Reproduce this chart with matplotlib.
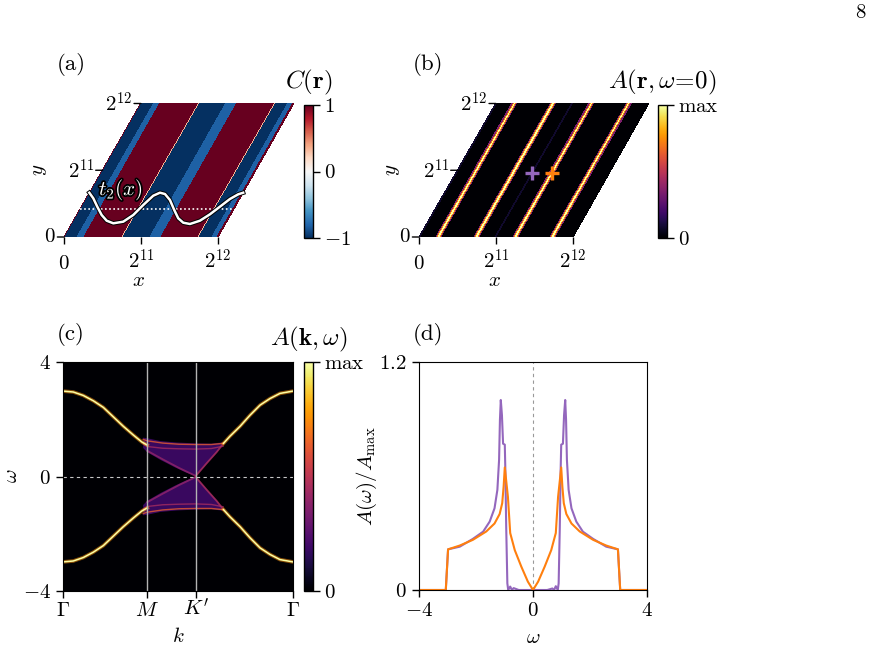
import numpy as np
import matplotlib
matplotlib.use('Agg')
import matplotlib.pyplot as plt
import matplotlib.patheffects as pe
from matplotlib.cm import ScalarMappable
from matplotlib.colors import Normalize

plt.rcParams['mathtext.fontset'] = 'cm'
plt.rcParams['font.family'] = 'serif'
plt.rcParams['font.serif'] = ['cmr10', 'DejaVu Serif']
plt.rcParams['axes.formatter.use_mathtext'] = True
plt.rcParams['font.size'] = 15

W, H = 872, 670
L = 4096

# ---------------------------------------------------------------------------
# data
# ---------------------------------------------------------------------------
LAT_TICKS  = [0, 2048, 4096]
LAT_LABELS = ['$0$', '$2^{11}$', '$2^{12}$']

# (a) C(r) profile along a1 (stripes run along a2)
C_EDGES  = [0, 30, 340, 520, 1545, 1580, 2280, 2575, 3570, 3605, 3940, 4066, 4096]
C_VALUES = [1.0, -1.0, -0.82, 1.0, 0.35, -1.0, -0.82, 1.0, 0.35, -1.0, -0.82, 1.0]

T2_X = [668, 775, 881, 998, 1132, 1309, 1575, 1842, 2109, 2376, 2555, 2689, 2822,
        2937, 3044, 3177, 3356, 3623, 3890, 4157, 4424, 4646, 4779]
T2_Y = [1359, 1187, 930, 675, 500, 420, 470, 675, 982, 1267, 1359, 1319, 1135,
        828, 574, 439, 399, 500, 696, 930, 1166, 1310, 1359]
DOT_X = [419, 4470]
DOT_Y = [859, 859]

# (b) A(r, w=0): bright domain walls, faint mid-domain lines, probe positions
WALL_U  = [520, 1545, 2575, 3570]
FAINT_U = [20, 2060]
CROSS_U = [2040, 2575]
CROSS_V = [1950, 1950]
CROSS_COLORS = ['#9467bd', '#ff7f0e']

# (c) A(k, w) along Gamma-M-K'-Gamma
K_NODES  = [0, 3.628, 5.722, 9.911]
K_LABELS = [r'$\Gamma$', r'$M$', r"$K'$", r'$\Gamma$']
GM_K = [0, 0.43, 0.86, 1.30, 1.73, 2.16, 2.59, 3.03, 3.39, 3.628]
GM_W = [2.99, 2.96, 2.84, 2.65, 2.42, 2.09, 1.76, 1.45, 1.21, 1.10]
KG_K = [6.92, 7.20, 7.64, 8.07, 8.50, 8.93, 9.36, 9.911]
KG_W = [1.16, 1.41, 1.76, 2.15, 2.50, 2.73, 2.91, 2.99]
CONE_K = [5.722, 6.19, 6.63, 6.92]
CONE_W = [0.02, 0.46, 0.86, 1.16]
DIAG_K = [3.628, 4.3, 5.0, 5.722]
DIAG_W = [0.90, 0.60, 0.30, 0.02]
FAN_K  = [3.45, 3.628, 4.3, 5.0, 5.722, 6.4, 6.9]
FAN_W1 = [1.30, 1.25, 1.17, 1.13, 1.12, 1.12, 1.16]
FAN_W2 = [1.15, 1.05, 0.99, 0.97, 0.96, 0.98, 1.06]
SMEAR_K = [3.45, 3.628, 4.2, 4.9, 5.722, 6.4, 6.92, 6.63, 6.19, 5.722, 5.3, 4.8, 4.2, 3.628, 3.45]
SMEAR_W = [1.36, 1.34, 1.24, 1.19, 1.16, 1.15, 1.20, 0.86, 0.46, 0.02, 0.14, 0.33, 0.58, 0.85, 1.0]

# (d) local DOS at the two probe positions
OM_WALL = [-4, -3.06, -2.98, -2.57, -2.11, -1.64, -1.35, -1.17, -1.08, -1.03, -0.99,
           -0.88, -0.80, -0.64, -0.41, -0.18, 0, 0.18, 0.41, 0.64, 0.80, 0.88, 0.99,
           1.03, 1.08, 1.17, 1.35, 1.64, 2.11, 2.57, 2.98, 3.06, 4]
A_WALL  = [0, 0, 0.214, 0.234, 0.264, 0.308, 0.35, 0.40, 0.457, 0.545, 0.645,
           0.49, 0.30, 0.21, 0.123, 0.044, 0, 0.044, 0.123, 0.21, 0.30, 0.49, 0.645,
           0.545, 0.457, 0.40, 0.35, 0.308, 0.264, 0.234, 0.214, 0, 0]
OM_DOM = [-4, -3.06, -2.98, -2.57, -2.11, -1.75, -1.52, -1.35, -1.25, -1.19, -1.16,
          -1.13, -1.09, -1.05, -0.99, -0.97, -0.94, -0.90, -0.87, -0.80, -0.74, -0.68,
          -0.5, 0, 0.5, 0.68, 0.74, 0.80, 0.87, 0.90, 0.94, 0.97, 0.99, 1.05, 1.09,
          1.13, 1.16, 1.19, 1.25, 1.35, 1.52, 1.75, 2.11, 2.57, 2.98, 3.06, 4]
A_DOM  = [0, 0, 0.214, 0.228, 0.269, 0.307, 0.36, 0.43, 0.527, 0.685, 0.896,
          1.0, 0.92, 0.77, 0.765, 0.63, 0.33, 0.035, 0, 0.018, 0, 0.01,
          0, 0, 0, 0.008, 0, 0.02, 0, 0.035, 0.33, 0.63, 0.765, 0.77, 0.92,
          1.0, 0.896, 0.685, 0.527, 0.43, 0.36, 0.307, 0.269, 0.228, 0.214, 0, 0]

# ---------------------------------------------------------------------------
fig = plt.figure(figsize=(W / 100, H / 100), dpi=100)


def px_axes(box):
    x0, y0, x1, y1 = box
    return fig.add_axes([x0 / W, 1 - y1 / H, (x1 - x0) / W, (y1 - y0) / H])


def to_axes(box, px, py):
    x0, y0, x1, y1 = box
    return (px - x0) / (x1 - x0), (y1 - py) / (y1 - y0)


def set_labels(ax, box, xl, xpos, yl, ypos):
    ax.set_xlabel(xl)
    ax.xaxis.set_label_coords(*to_axes(box, *xpos))
    ax.xaxis.label.set_va('center')
    ax.set_ylabel(yl)
    ax.yaxis.set_label_coords(*to_axes(box, *ypos))
    ax.yaxis.label.set_va('center')


def skew_mesh(ax, u_edges, vals, cmap, vmin, vmax):
    uu, vv = np.meshgrid(np.asarray(u_edges, float), [0.0, L])
    ax.pcolormesh(uu + 0.5 * vv, vv, np.asarray(vals)[None, :], cmap=cmap,
                  vmin=vmin, vmax=vmax, shading='flat', rasterized=True)


def lattice_axes(ax):
    ax.set_xlim(0, 1.5 * L)
    ax.set_ylim(0, L)
    for s in ax.spines.values():
        s.set_visible(False)
    ax.set_xticks(LAT_TICKS)
    ax.set_xticklabels(LAT_LABELS, va='baseline')
    ax.tick_params(axis='x', length=5, width=1, pad=18, direction='out')
    ax.set_yticks([])
    for v, lab in zip(LAT_TICKS, LAT_LABELS):
        ax.annotate('', xy=(0.5 * v, v), xytext=(-5, 0), textcoords='offset points',
                    arrowprops=dict(arrowstyle='-', lw=1, shrinkA=0, shrinkB=0),
                    annotation_clip=False)
        ax.annotate(lab, xy=(0.5 * v, v), xytext=(-6, 0), textcoords='offset points',
                    ha='right', va='center', annotation_clip=False)


def colorbar(box, cmap, vmin, vmax, ticks, labels, title, title_pad):
    cax = px_axes(box)
    cb = fig.colorbar(ScalarMappable(norm=Normalize(vmin, vmax), cmap=cmap), cax=cax)
    cb.set_ticks(ticks)
    cb.set_ticklabels(labels)
    cax.tick_params(length=5, width=1, pad=3)
    cb.outline.set_linewidth(1)
    cax.set_title(title, pad=title_pad)
    return cb


A_BOX  = (64.3, 103.5, 294.3, 237)
B_BOX  = (419.3, 103.5, 649.3, 237)
CA_BOX = (304, 105, 313, 238)
CB_BOX = (658, 105, 667, 238)
C_BOX  = (63.3, 362.3, 292.7, 590.7)
CC_BOX = (304, 362.3, 313, 590.7)
D_BOX  = (419, 362, 647, 590)

# ---- (a) -------------------------------------------------------------------
ax = px_axes(A_BOX)
skew_mesh(ax, C_EDGES, C_VALUES, 'RdBu_r', -1, 1)
lattice_axes(ax)
ax.plot(DOT_X, DOT_Y, color='white', lw=1.2, ls=(0, (1, 1.5)))
ax.plot(T2_X, T2_Y, color='white', lw=1.8,
        path_effects=[pe.Stroke(linewidth=3.2, foreground='black'), pe.Normal()])
ax.text(1514, 1442, '$t_2(x)$', color='white', ha='center', va='center',
        path_effects=[pe.withStroke(linewidth=2.5, foreground='black')])
set_labels(ax, A_BOX, '$x$', (139, 281), '$y$', (40, 170))
colorbar(CA_BOX, 'RdBu_r', -1, 1, [-1, 0, 1], ['$-1$', '$0$', '$1$'],
         r'$C(\mathbf{r})$', 12)

# ---- (b) -------------------------------------------------------------------
ax = px_axes(B_BOX)
u_edges = np.arange(0, L + 1, 8)
u_mid = 0.5 * (u_edges[:-1] + u_edges[1:])
a_vals = np.zeros_like(u_mid)
for f in FAINT_U:
    a_vals[np.abs(u_mid - f) < 30] = 0.08
for w in WALL_U:
    d = np.abs(u_mid - w)
    a_vals[(d >= 25) & (d < 50)] = 0.75
    a_vals[(d >= 50) & (d < 80)] = 0.35
    a_vals[d < 25] = 1.0
skew_mesh(ax, u_edges, a_vals, 'inferno', 0, 1)
lattice_axes(ax)
for u, v, c in zip(CROSS_U, CROSS_V, CROSS_COLORS):
    ax.plot(u + 0.5 * v, v, marker='+', ms=10, mew=2.4, color=c, ls='none')
set_labels(ax, B_BOX, '$x$', (494, 281), '$y$', (393, 170))
colorbar(CB_BOX, 'inferno', 0, 1, [0, 1], ['$0$', r'$\mathrm{max}$'],
         r'$A(\mathbf{r},\omega\!=\!0)$', 12)

# ---- (c) -------------------------------------------------------------------
ax = px_axes(C_BOX)
ax.set_facecolor('#000004')
ax.set_xlim(K_NODES[0], K_NODES[-1])
ax.set_ylim(-4, 4)
for sgn in (1, -1):
    ax.fill(SMEAR_K, sgn * np.asarray(SMEAR_W), color='#3d0965', alpha=0.95, lw=0)
    ax.plot(DIAG_K, sgn * np.asarray(DIAG_W), color='#8a226a', lw=1.3, alpha=0.9)
    ax.plot(CONE_K, sgn * np.asarray(CONE_W), color='#a52c60', lw=1.3, alpha=0.9)
    ax.plot(FAN_K, sgn * np.asarray(FAN_W2), color='#a52c60', lw=1.0, alpha=0.8)
    ax.plot(FAN_K, sgn * np.asarray(FAN_W1), color='#e55c30', lw=1.0, alpha=0.8)
    for kk, ww in ((GM_K, GM_W), (KG_K, KG_W)):
        ax.plot(kk, sgn * np.asarray(ww), color='#f98e09', lw=2.6, alpha=0.55)
        ax.plot(kk, sgn * np.asarray(ww), color='#fcffa4', lw=1.1)
for k in K_NODES[1:3]:
    ax.axvline(k, color='#b4b4b4', lw=1)
ax.axhline(0, color='#c8c8c8', lw=0.8, ls=(0, (3, 3)))
ax.set_xticks(K_NODES)
ax.set_xticklabels(K_LABELS, va='baseline')
ax.set_yticks([-4, 0, 4])
ax.set_yticklabels(['$-4$', '$0$', '$4$'])
ax.tick_params(length=5, width=1, pad=4)
ax.tick_params(axis='x', pad=13)
set_labels(ax, C_BOX, '$k$', (178, 637), r'$\omega$', (12, 476))
colorbar(CC_BOX, 'inferno', 0, 1, [0, 1], ['$0$', r'$\mathrm{max}$'],
         r'$A(\mathbf{k},\omega)$', 12)

# ---- (d) -------------------------------------------------------------------
ax = px_axes(D_BOX)
ax.axvline(0, color='#999999', lw=0.8, ls=(0, (3, 3)))
ax.plot(OM_DOM, A_DOM, color=CROSS_COLORS[0], lw=1.5)
ax.plot(OM_WALL, A_WALL, color=CROSS_COLORS[1], lw=1.5)
ax.set_xlim(-4, 4)
ax.set_ylim(0, 1.2)
ax.set_xticks([-4, 0, 4])
ax.set_xticklabels(['$-4$', '$0$', '$4$'])
ax.set_yticks([0, 1.2])
ax.set_yticklabels(['$0$', '$1.2$'])
ax.tick_params(length=5, width=1, pad=4)
set_labels(ax, D_BOX, r'$\omega$', (533, 638),
           r'$A(\omega)/A_{\mathrm{max}}$', (367, 476))

# ---- panel letters and page number ------------------------------------------
for lab, px, py in (('(a)', 57, 65), ('(b)', 413, 65), ('(c)', 57, 335), ('(d)', 413, 335)):
    fig.text(px / W, 1 - py / H, lab, ha='left', va='center', fontsize=16.5)
fig.text(860 / W, 1 - 13 / H, '8', ha='center', va='center', fontsize=15)

fig.savefig('out.png', dpi=100)
